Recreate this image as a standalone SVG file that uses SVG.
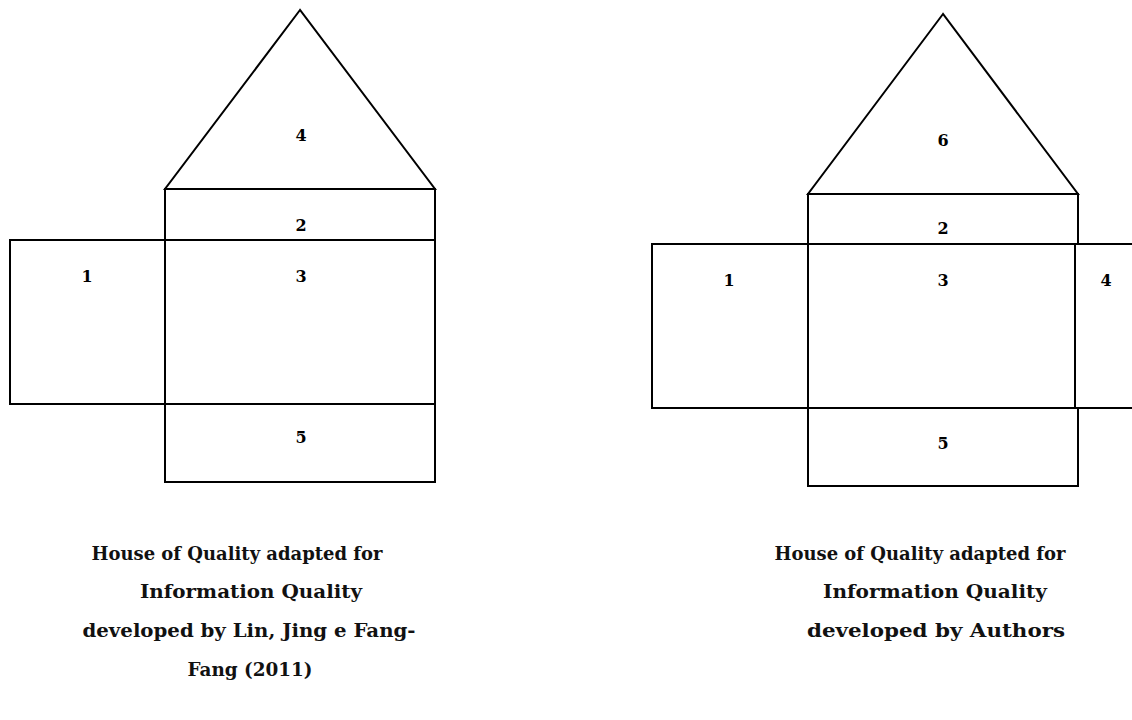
<svg xmlns="http://www.w3.org/2000/svg" width="1132" height="720" viewBox="0 0 1132 720">
<style>
  .s{fill:none;stroke:#000;stroke-width:2}
  .t{font-family:"DejaVu Serif","Liberation Serif",serif;font-weight:bold;font-size:16px;text-anchor:middle;fill:#000}
  .c{font-family:"DejaVu Serif","Liberation Serif",serif;font-weight:bold;font-size:18px;text-anchor:middle;fill:#111}
</style>
<rect width="1132" height="720" fill="#fff"/>
<g id="left-house">
  <g id="L4"><polygon class="s" points="300,10 165,189 435,189"/><text class="t" x="301" y="141">4</text></g>
  <g id="L2"><rect class="s" x="165" y="189" width="270" height="51"/><text class="t" x="301" y="231">2</text></g>
  <g id="L1"><rect class="s" x="10" y="240" width="155" height="164"/><text class="t" x="87" y="282">1</text></g>
  <g id="L3"><rect class="s" x="165" y="240" width="270" height="164"/><text class="t" x="301" y="282">3</text></g>
  <g id="L5"><rect class="s" x="165" y="404" width="270" height="78"/><text class="t" x="301" y="443">5</text></g>
</g>
<g id="right-house">
  <g id="R6"><polygon class="s" points="943,14 808,194 1078,194"/><text class="t" x="943" y="146">6</text></g>
  <g id="R2"><rect class="s" x="808" y="194" width="270" height="50"/><text class="t" x="943" y="234">2</text></g>
  <g id="R1"><rect class="s" x="652" y="244" width="156" height="164"/><text class="t" x="729" y="286">1</text></g>
  <g id="R3"><rect class="s" x="808" y="244" width="267" height="164"/><text class="t" x="943" y="286">3</text></g>
  <g id="R4"><rect class="s" x="1075" y="244" width="70" height="164"/><text class="t" x="1106" y="286">4</text></g>
  <g id="R5"><rect class="s" x="808" y="408" width="270" height="78"/><text class="t" x="943" y="449">5</text></g>
</g>
<g id="connectors"></g>
<g id="captions">
  <text class="c" x="237" y="560" textLength="291" lengthAdjust="spacingAndGlyphs">House of Quality adapted for</text>
  <text class="c" x="251" y="598" textLength="222" lengthAdjust="spacingAndGlyphs">Information Quality</text>
  <text class="c" x="249" y="637" textLength="333" lengthAdjust="spacingAndGlyphs">developed by Lin, Jing e Fang-</text>
  <text class="c" x="250" y="676" textLength="125" lengthAdjust="spacingAndGlyphs">Fang (2011)</text>
  <text class="c" x="920" y="560" textLength="291" lengthAdjust="spacingAndGlyphs">House of Quality adapted for</text>
  <text class="c" x="935" y="598" textLength="224" lengthAdjust="spacingAndGlyphs">Information Quality</text>
  <text class="c" x="936" y="637" textLength="258" lengthAdjust="spacingAndGlyphs">developed by Authors</text>
</g>
</svg>
